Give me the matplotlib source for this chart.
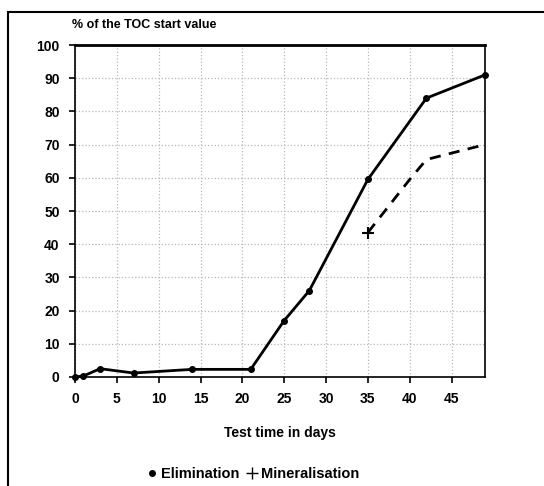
import matplotlib
matplotlib.use("Agg")
import matplotlib.pyplot as plt
from matplotlib.lines import Line2D
from matplotlib.patches import Rectangle

elim_days = [0, 1, 3, 7, 14, 21, 25, 28, 35, 42, 49]
elim_vals = [0, 0.3, 2.5, 1.2, 2.3, 2.3, 17, 26, 59.5, 84, 91]
mine_days = [35, 40, 42, 49]
mine_vals = [43.5, 59.5, 65.5, 70]
xticks = [0, 5, 10, 15, 20, 25, 30, 35, 40, 45]
yticks = [0, 10, 20, 30, 40, 50, 60, 70, 80, 90, 100]

plt.rcParams['font.family'] = ['Liberation Sans', 'DejaVu Sans']

fig = plt.figure(figsize=(5.44, 4.86), dpi=100)
fig.patches.append(Rectangle((8/544, -0.01), 1.0, 1 - 12/486 + 0.01,
                             transform=fig.transFigure, fill=False,
                             edgecolor='black', linewidth=1.5, clip_on=False))

ax = fig.add_axes([75/544, 1 - 377/486, (485-75)/544, (377-45)/486])
ax.plot(elim_days, elim_vals, color='black', linewidth=2, marker='o', markersize=4,
        clip_on=False, zorder=3)
ax.plot(mine_days, mine_vals, color='black', linewidth=2, linestyle=(0, (4, 3)),
        marker='+', markersize=9, markeredgewidth=1.5, markevery=[0],
        clip_on=False, zorder=3)

ax.set_xlim(0, 49)
ax.set_ylim(0, 100)
ax.set_xticks(xticks)
ax.set_yticks(yticks)
ax.tick_params(direction='out', length=4, width=1.2, labelsize=10, pad=7)
for lab in ax.get_xticklabels() + ax.get_yticklabels():
    lab.set_fontweight('bold')
ax.grid(True, color='#b8b8b8', linestyle=':', linewidth=0.9)
for s in ['left', 'bottom', 'right']:
    ax.spines[s].set_linewidth(1.2)
ax.spines['top'].set_linewidth(2)

ax.set_xlabel('Test time in days', fontsize=10, fontweight='bold', labelpad=14)
fig.text(72/544, 1 - 25/486, '% of the TOC start value', fontsize=9,
         fontweight='bold', va='center', ha='left')

handles = [Line2D([], [], color='black', marker='.', linestyle='none', markersize=8),
           Line2D([], [], color='black', marker='+', linestyle='none', markersize=9)]
fig.legend(handles, ['Elimination', 'Mineralisation'], loc='center',
           bbox_to_anchor=(252/544, 1 - 474/486), ncol=2, frameon=False,
           handletextpad=0.1, columnspacing=0.4, handlelength=1,
           prop={'size': 10.5, 'weight': 'bold'})

fig.savefig('out.png', dpi=100)
